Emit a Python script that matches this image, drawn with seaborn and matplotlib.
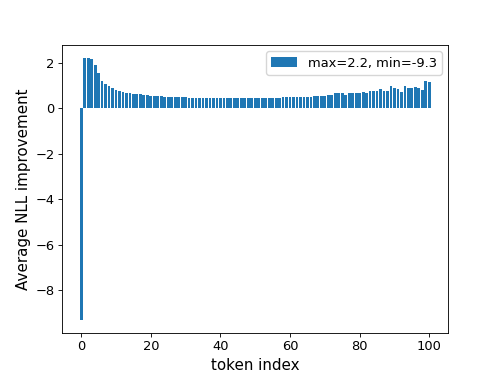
import seaborn as sns
import pandas as pd
import numpy as np
import matplotlib.pyplot as plt

# average NLL improvement per token position
token_index = list(range(101))
nll_improvement = [
    -9.3, 2.2, 2.18, 2.14, 1.87, 1.52, 1.19, 1.05, 0.97, 0.88,
    0.80, 0.74, 0.69, 0.68, 0.65, 0.63, 0.61, 0.60, 0.58, 0.56,
    0.54, 0.53, 0.52, 0.51, 0.50, 0.50, 0.49, 0.48, 0.48, 0.47,
    0.47, 0.46, 0.46, 0.46, 0.45, 0.45, 0.45, 0.44, 0.44, 0.44,
    0.44, 0.44, 0.44, 0.44, 0.44, 0.44, 0.44, 0.44, 0.44, 0.44,
    0.44, 0.44, 0.44, 0.45, 0.45, 0.45, 0.46, 0.46, 0.47, 0.47,
    0.48, 0.48, 0.49, 0.49, 0.49, 0.50, 0.50, 0.53, 0.53, 0.51,
    0.51, 0.57, 0.56, 0.65, 0.65, 0.65, 0.58, 0.65, 0.65, 0.65,
    0.65, 0.72, 0.65, 0.77, 0.77, 0.77, 0.82, 0.76, 0.75, 0.99,
    0.90, 0.84, 0.69, 0.99, 0.88, 0.88, 0.93, 0.88, 0.78, 1.21,
    1.15,
]

df = pd.DataFrame({"token": token_index, "nll": nll_improvement})
label = f"max={max(nll_improvement):.1f}, min={min(nll_improvement):.1f}"

# reference looks like a 6.4x4.8 figure scaled down, so shrink fonts/lines to match
s = 498 / 640
plt.rcParams.update({
    "font.size": 12 * s,
    "axes.linewidth": 0.8 * s,
    "xtick.major.size": 3.5 * s,
    "ytick.major.size": 3.5 * s,
    "xtick.major.width": 0.8 * s,
    "ytick.major.width": 0.8 * s,
    "xtick.major.pad": 3.5 * s,
    "ytick.major.pad": 3.5 * s,
    "axes.labelpad": 4.0 * s,
})

fig, ax = plt.subplots(figsize=(4.98, 3.74), dpi=100)
sns.barplot(data=df, x="token", y="nll", native_scale=True, color="#1f77b4",
            saturation=1, errorbar=None, width=0.8, linewidth=0, label=label, ax=ax)
ax.set_xlabel("token index", fontsize=14 * s)
ax.set_ylabel("Average NLL improvement", fontsize=14 * s)
ax.tick_params(labelsize=12 * s)
ax.legend(loc="upper right", fontsize=12 * s)

plt.savefig("out.png")
